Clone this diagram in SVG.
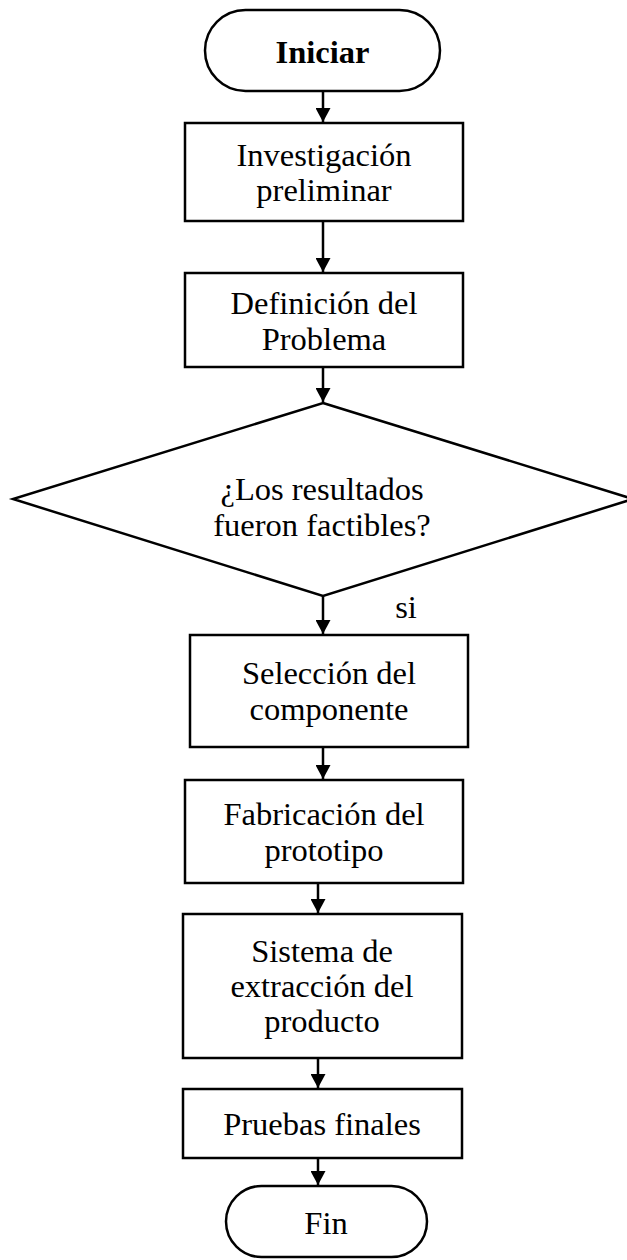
<svg xmlns="http://www.w3.org/2000/svg" width="627" height="1260" viewBox="0 0 627 1260">
<style>
.shape{fill:#fff;stroke:#000;stroke-width:2.5}
.t{font-family:"Liberation Serif","Times New Roman",serif;font-size:32.5px;fill:#000;text-anchor:middle}
.b{font-weight:bold}
.c{stroke:#000;stroke-width:2.5;fill:none}
</style>
<defs>
<marker id="arr" markerWidth="15" markerHeight="15" refX="14" refY="7.5" orient="auto" markerUnits="userSpaceOnUse">
<path d="M0,0 L14,7.5 L0,15 Z" fill="#000"/>
</marker>
</defs>
<rect width="627" height="1260" fill="#fff"/>
<g id="connectors">
<line class="c" x1="323" y1="91" x2="323" y2="122" marker-end="url(#arr)"/>
<line class="c" x1="323" y1="221" x2="323" y2="272" marker-end="url(#arr)"/>
<line class="c" x1="323" y1="367" x2="323" y2="402" marker-end="url(#arr)"/>
<line class="c" x1="323" y1="596" x2="323" y2="634" marker-end="url(#arr)"/>
<line class="c" x1="323" y1="747" x2="323" y2="779" marker-end="url(#arr)"/>
<line class="c" x1="318" y1="883" x2="318" y2="913" marker-end="url(#arr)"/>
<line class="c" x1="318" y1="1058" x2="318" y2="1088" marker-end="url(#arr)"/>
<line class="c" x1="318" y1="1158" x2="318" y2="1185" marker-end="url(#arr)"/>
<text class="t" x="406" y="618">si</text>
</g>
<g id="n-iniciar">
<rect class="shape" x="205" y="10" width="235" height="81" rx="40.5" ry="40.5"/>
<text class="t b" x="322.5" y="63">Iniciar</text>
</g>
<g id="n-investigacion">
<rect class="shape" x="185" y="123" width="278" height="98"/>
<text class="t" x="324" y="166">Investigación</text>
<text class="t" x="324" y="201">preliminar</text>
</g>
<g id="n-definicion">
<rect class="shape" x="185" y="273" width="278" height="94"/>
<text class="t" x="324" y="314">Definición del</text>
<text class="t" x="324" y="350">Problema</text>
</g>
<g id="n-decision">
<polygon class="shape" points="323,403 633,499 323,596 13,499"/>
<text class="t" x="322" y="500">¿Los resultados</text>
<text class="t" x="322" y="536">fueron factibles?</text>
</g>
<g id="n-seleccion">
<rect class="shape" x="190" y="635" width="278" height="112"/>
<text class="t" x="329" y="684">Selección del</text>
<text class="t" x="329" y="720">componente</text>
</g>
<g id="n-fabricacion">
<rect class="shape" x="185" y="780" width="278" height="103"/>
<text class="t" x="324" y="825">Fabricación del</text>
<text class="t" x="324" y="861">prototipo</text>
</g>
<g id="n-sistema">
<rect class="shape" x="183" y="914" width="279" height="144"/>
<text class="t" x="322" y="962">Sistema de</text>
<text class="t" x="322" y="997">extracción del</text>
<text class="t" x="322" y="1032">producto</text>
</g>
<g id="n-pruebas">
<rect class="shape" x="183" y="1089" width="279" height="69"/>
<text class="t" x="322" y="1135">Pruebas finales</text>
</g>
<g id="n-fin">
<rect class="shape" x="226" y="1186" width="201" height="71" rx="35.5" ry="35.5"/>
<text class="t" x="326" y="1234">Fin</text>
</g>
</svg>
